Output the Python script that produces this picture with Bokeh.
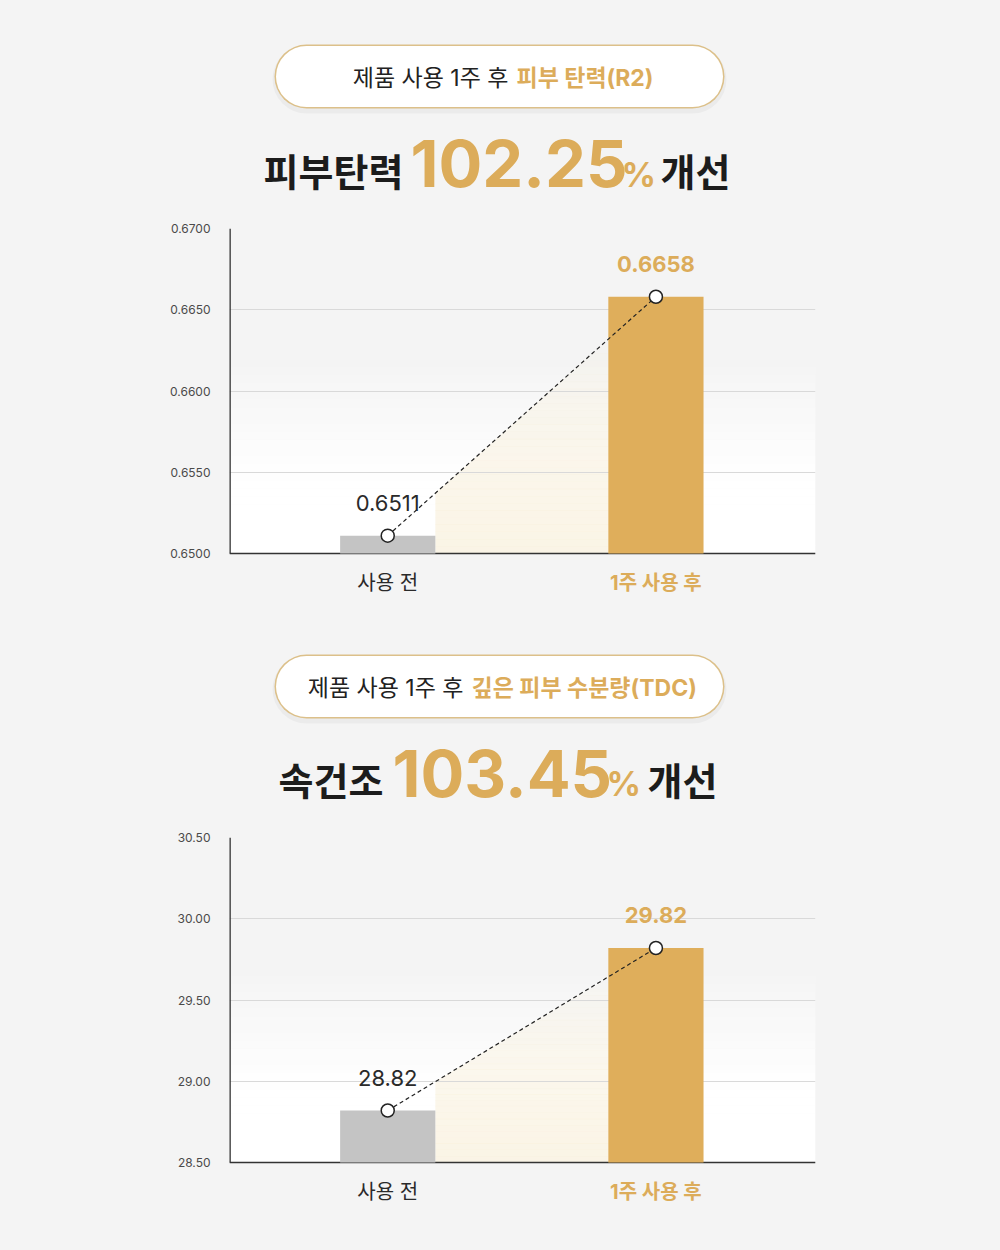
import numpy as np
from bokeh.plotting import figure
from bokeh.layouts import column
from bokeh.models import Range1d, FixedTicker, NumeralTickFormatter
from bokeh.core.properties import value
from bokeh.embed import file_html
from bokeh.resources import INLINE

# ---------------- data ----------------
categories = ["사용 전", "1주 사용 후"]

r2_values = [0.6511, 0.6658]
r2_labels = ["0.6511", "0.6658"]
r2_ticks = [0.6500, 0.6550, 0.6600, 0.6650, 0.6700]

tdc_values = [28.82, 29.82]
tdc_labels = ["28.82", "29.82"]
tdc_ticks = [28.50, 29.00, 29.50, 30.00, 30.50]

pill1_plain = "제품 사용 1주 후"
pill1_gold = "피부 탄력(R2)"
title1 = ["피부탄력", "102.25", "%", "개선"]

pill2_plain = "제품 사용 1주 후"
pill2_gold = "깊은 피부 수분량(TDC)"
title2 = ["속건조", "103.45", "%", "개선"]

# ---------------- style ----------------
BG = "#f4f4f4"
GOLD = "#dfae5b"
GOLD_TXT = "#dcac5a"
GRAY_BAR = "#c4c4c4"
DARK = "#1c1c1c"
FONT = "Inter, Noto Sans CJK KR"


def blend(c1, c2, t):
    a = [int(c1[i:i + 2], 16) for i in (1, 3, 5)]
    b = [int(c2[i:i + 2], 16) for i in (1, 3, 5)]
    return "#%02x%02x%02x" % tuple(int(round(a[k] + (b[k] - a[k]) * t)) for k in range(3))


def header(height, pill_cy, plain, gold, split_x, kor_y, num_y, pct_y, parts, xs):
    p = figure(width=1000, height=height, x_range=Range1d(0, 1000),
               y_range=Range1d(height, 0), toolbar_location=None,
               output_backend="svg", min_border=0, frame_align=False)
    p.axis.visible = False
    p.grid.visible = False
    p.outline_line_color = None
    p.background_fill_color = BG
    p.border_fill_color = BG
    x0, x1 = 306, 692
    p.segment(x0=[x0], y0=[pill_cy + 3], x1=[x1], y1=[pill_cy + 3],
              line_width=68, line_cap="round", line_color="#000000", line_alpha=0.035)
    p.segment(x0=[x0], y0=[pill_cy], x1=[x1], y1=[pill_cy],
              line_width=64, line_cap="round", line_color="#dcc08a")
    p.segment(x0=[x0], y0=[pill_cy], x1=[x1], y1=[pill_cy],
              line_width=61, line_cap="round", line_color="#ffffff")
    p.text(x=[split_x - 4], y=[pill_cy + 1], text=[plain], text_align="right",
           text_baseline="middle", text_font=value(FONT), text_font_size="23px",
           text_color="#222222")
    p.text(x=[split_x + 4], y=[pill_cy + 1], text=[gold], text_align="left",
           text_baseline="middle", text_font=value(FONT), text_font_size="23px",
           text_font_style="bold", text_color=GOLD_TXT)
    sizes = ["38px", "65px", "34px", "38px"]
    colors = [DARK, GOLD_TXT, GOLD_TXT, DARK]
    ys = [kor_y, num_y, pct_y, kor_y]
    for txt, x, y, s, c in zip(parts, xs, ys, sizes, colors):
        p.text(x=[x], y=[y], text=[txt], text_align="left",
               text_baseline="middle", text_font=value(FONT),
               text_font_size=s, text_font_style="bold", text_color=c)
    return p


def chart(height, top_b, bottom_b, vals, labels, ticks, fmt):
    FRAME_H = 325.0
    EXTRA = 60.0  # frame continues below the baseline to hold category labels
    ymin, ymax = ticks[0], ticks[-1]
    span = ymax - ymin
    ylow = ymin - EXTRA / FRAME_H * span
    xs = [i + 0.5 for i in range(len(vals))]
    xr0, xr1 = -0.09, 2.095
    p = figure(width=1000, height=height, x_range=Range1d(xr0, xr1),
               y_range=Range1d(ylow, ymax), toolbar_location=None,
               output_backend="svg", min_border_left=229, min_border_right=185,
               min_border_top=top_b, min_border_bottom=int(bottom_b - EXTRA),
               frame_align=False)
    p.background_fill_color = BG
    p.border_fill_color = BG
    p.outline_line_color = None

    # background gradient (grey at top -> white at bottom)
    n = 40
    edges = np.linspace(ymin, ymax, n + 1)
    cols = []
    for k in range(n):
        mid = (edges[k] + edges[k + 1]) / 2
        f = (ymax - mid) / span
        t = min(max((f - 0.40) / (0.78 - 0.40), 0), 1)
        cols.append(blend(BG, "#ffffff", t))
    eps = span / 1000
    p.quad(left=xr0, right=xr1, bottom=edges[:-1], top=edges[1:] + eps,
           fill_color=cols, line_color=None, level="image")

    # cream area under the dashed connector
    w = 0.355
    xl = xs[0] + w / 2
    xr = xs[1] - w / 2
    slope = (vals[1] - vals[0]) / (xs[1] - xs[0])
    line = lambda x: vals[0] + slope * (x - xs[0])
    ytop = line(xr)
    m = 30
    bed = np.linspace(ymin, ytop, m + 1)
    pxs, pys, alphas = [], [], []
    for k in range(m):
        ya, yb = bed[k], bed[k + 1] + eps
        xa = xs[0] + (ya - vals[0]) / slope
        xb = xs[0] + (yb - vals[0]) / slope
        bks = sorted(set(min(max(v, xl), xr) for v in (xl, xr, xa, xb)))
        tops = [min(max(line(x), ya), yb) for x in bks]
        pxs.append(list(bks) + list(reversed(bks)))
        pys.append(tops + [ya] * len(bks))
        frac = ((ya + yb) / 2 - ymin) / (ytop - ymin)
        alphas.append(0.6 * (1 - frac) ** 0.6)
    p.patches(xs=pxs, ys=pys, fill_color="#f7edd4", fill_alpha=alphas,
              line_color=None, level="image")

    # grid & axes
    p.xgrid.visible = False
    p.ygrid.ticker = FixedTicker(ticks=ticks)
    p.ygrid.grid_line_color = "#d9d9d9"
    p.ygrid.grid_line_width = 1
    p.yaxis.ticker = FixedTicker(ticks=ticks)
    p.yaxis.formatter = NumeralTickFormatter(format=fmt)
    p.yaxis.major_label_text_font = FONT
    p.yaxis.major_label_text_font_size = "12px"
    p.yaxis.major_label_text_color = "#4a4a4a"
    p.yaxis.major_label_standoff = 13
    p.yaxis.major_tick_line_color = None
    p.yaxis.minor_tick_line_color = None
    p.yaxis.axis_line_color = None
    p.xaxis.visible = False

    # axis lines limited to the value range
    p.segment(x0=[xr0], y0=[ymin], x1=[xr0], y1=[ymax], line_color="#333333",
              line_width=2.6)
    p.segment(x0=[xr0], y0=[ymin], x1=[xr1], y1=[ymin], line_color="#333333",
              line_width=1.3)

    # bars
    p.vbar(x=xs, top=vals, bottom=ymin, width=w, fill_color=[GRAY_BAR, GOLD],
           line_color=None)
    # connector + markers
    p.line(x=xs, y=vals, line_dash="4 3", line_color="#222222", line_width=1.2)
    p.scatter(x=xs, y=vals, size=13, fill_color="white", line_color="#222222",
              line_width=1.5)

    # value labels + category labels
    styles = [("normal", "#2a2a2a"), ("bold", GOLD_TXT)]
    for i in range(len(vals)):
        st, col = styles[i]
        p.text(x=[xs[i]], y=[vals[i]], text=[labels[i]], text_align="center",
               text_baseline="middle", y_offset=-33, text_font=value(FONT),
               text_font_size="22px", text_font_style=st, text_color=col)
        p.text(x=[xs[i]], y=[ymin], text=[categories[i]], text_align="center",
               text_baseline="middle", y_offset=29, text_font=value(FONT),
               text_font_size="20px", text_font_style=st, text_color=col)
    return p


h1 = header(205, 76, pill1_plain, pill1_gold, 512, 171, 163, 174, title1,
            [263, 410, 621, 660])
c1 = chart(420, 23, 72, r2_values, r2_labels, r2_ticks, "0.0000")
h2 = header(190, 61, pill2_plain, pill2_gold, 467, 155, 148, 158, title2,
            [278, 392, 606, 647])
c2 = chart(435, 22, 88, tdc_values, tdc_labels, tdc_ticks, "0.00")

layout = column(h1, c1, h2, c2, spacing=0, styles={"background-color": BG})
open("out.html", "w").write(file_html(layout, INLINE))
